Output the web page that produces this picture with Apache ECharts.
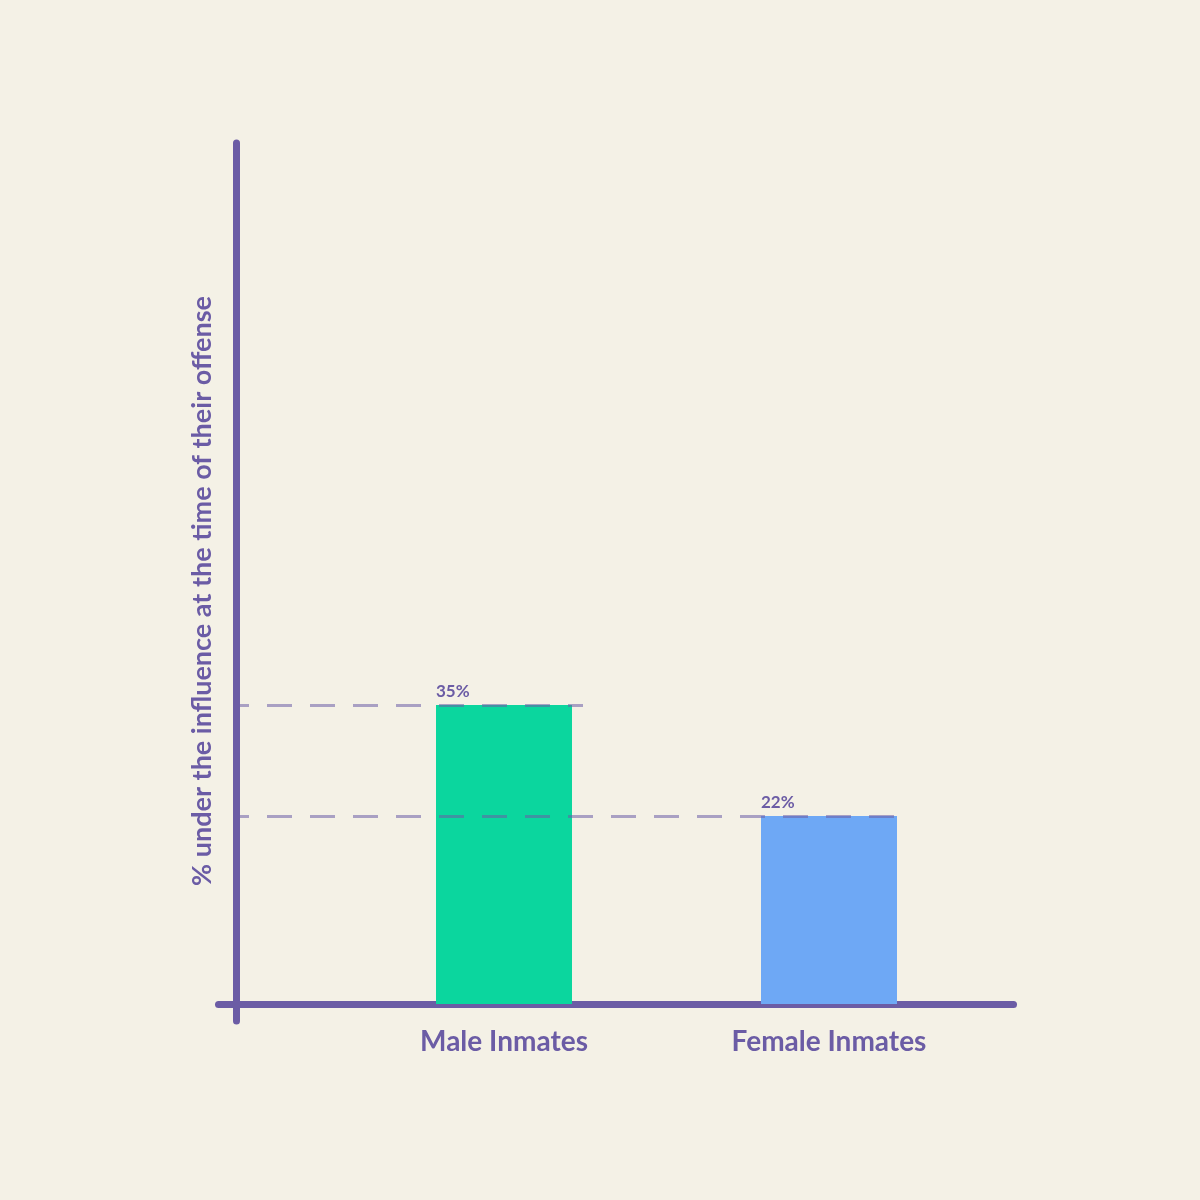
<!DOCTYPE html>
<html>
<head>
<meta charset="utf-8">
<script src="https://cdn.jsdelivr.net/npm/echarts@6/dist/echarts.min.js"></script>
<style>
  html, body { margin: 0; padding: 0; background: #f4f1e6; }
  #chart { width: 1200px; height: 1200px; }
</style>
</head>
<body>
<div id="chart"></div>
<script>
// data
let categories = ['Male Inmates', 'Female Inmates']
let values = [35, 22]
let barColors = ['#0bd69e', '#6ea8f5']
let yName = '% under the influence at the time of their offense'

let purple = '#6b5ca5'
let font = 'Lato'

// dashed guide lines: from y axis to bar edge
let guideEnds = [583, 898]

let myChart = echarts.init(document.getElementById('chart'))

let yRange = { min: -2.0, max: 100.8 }

let option = {
  backgroundColor: '#f4f1e6',
  animation: false,
  grid: [
    { left: 218.5, right: 186.5, top: 143, bottom: 179 },
    { left: 341.5, right: 208.5, top: 143, bottom: 179 }
  ],
  xAxis: [
    {
      gridIndex: 0,
      type: 'value',
      min: 0,
      max: 1,
      axisLine: { show: true, onZero: true, lineStyle: { color: purple, width: 7, cap: 'round' } },
      axisTick: { show: false },
      axisLabel: { show: false },
      splitLine: { show: false }
    },
    {
      gridIndex: 1,
      type: 'category',
      data: categories,
      axisLine: { show: false },
      axisTick: { show: false },
      axisLabel: {
        color: purple,
        fontFamily: font,
        fontSize: 28,
        fontWeight: 'bold',
        margin: 7
      }
    }
  ],
  yAxis: [
    {
      gridIndex: 0,
      type: 'value',
      min: yRange.min,
      max: yRange.max,
      offset: -17.5,
      name: yName,
      nameLocation: 'middle',
      nameGap: 20,
      nameTextStyle: {
        color: purple,
        fontFamily: font,
        fontSize: 27,
        fontWeight: 'bold',
        padding: [0, 18, 0, 0]
      },
      axisLine: { show: true, onZero: false, lineStyle: { color: purple, width: 7, cap: 'round' } },
      axisTick: { show: false },
      axisLabel: { show: false },
      splitLine: { show: false }
    },
    {
      gridIndex: 1,
      type: 'value',
      min: yRange.min,
      max: yRange.max,
      show: false,
      splitLine: { show: false }
    }
  ],
  series: [
    {
      type: 'bar',
      xAxisIndex: 1,
      yAxisIndex: 1,
      barWidth: 136,
      data: values.map(function(v, i) {
        return { value: v, itemStyle: { color: barColors[i] } }
      }),
      label: {
        show: true,
        position: [0, -5],
        align: 'left',
        verticalAlign: 'bottom',
        formatter: '{c}%',
        color: purple,
        fontFamily: font,
        fontSize: 17,
        fontWeight: 'bold'
      },
      markLine: {
        silent: true,
        symbol: 'none',
        z: 5,
        label: { show: false },
        lineStyle: { color: 'rgba(107,92,165,0.55)', width: 3, type: [25, 18], dashOffset: 16 },
        data: values.map(function(v, i) {
          return [{ x: 240, yAxis: v }, { x: guideEnds[i], yAxis: v }]
        })
      }
    }
  ]
}

myChart.setOption(option)
</script>
</body>
</html>
